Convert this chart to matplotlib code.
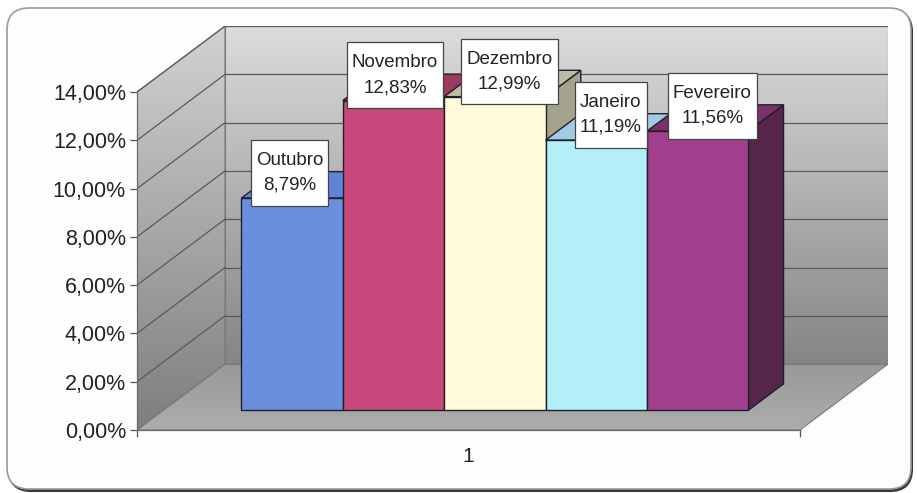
import matplotlib

matplotlib.use("Agg")
import matplotlib.pyplot as plt
import numpy as np
from matplotlib.colors import LinearSegmentedColormap
from matplotlib.patches import FancyBboxPatch, Polygon, Rectangle
from matplotlib.transforms import IdentityTransform

MONTHS = ["Outubro", "Novembro", "Dezembro", "Janeiro", "Fevereiro"]
VALUES = [8.79, 12.83, 12.99, 11.19, 11.56]
Y_TICKS = [0, 2, 4, 6, 8, 10, 12, 14]
CATEGORY = "1"

# bar face colours: front, top, right side
FRONT = ["#6b8fdf", "#c8497b", "#fffbda", "#b3eff9", "#a1418d"]
TOP = ["#5f84d6", "#9b3a5e", "#bcbca4", "#a3cbe6", "#7b3069"]
SIDE = ["#4a67a8", "#7e2d4b", "#a3a38b", "#86b8cc", "#55254a"]
LABEL_NUDGE = [-20, -16, -3, -3, -3]  # px, Excel shuffled the labels a bit

GAP = 0.77            # floor margin either side of the bars (category units)
DX, DY = 0.868, 2.73  # full depth of the floor, projected (x units, percent)
D0, D1 = 0.30, 0.70   # bar front / back as fraction of that depth
YMAX = 14
PX_PER_PCT = 24.14

plt.rcParams["font.family"] = ["Liberation Sans", "DejaVu Sans"]

fig = plt.figure(figsize=(9.17, 4.93), dpi=100)
fig.patch.set_facecolor("white")

# chart-area frame with dark shadow at the bottom
shadow = FancyBboxPatch((9, 2), 903, 481, boxstyle="round,pad=0,rounding_size=22",
                        fc="#3a3a3a", ec="#3a3a3a", lw=1.5,
                        transform=IdentityTransform(), zorder=-2)
frame = FancyBboxPatch((7, 4), 904, 481, boxstyle="round,pad=0,rounding_size=22",
                       fc="#fdfdfd", ec="#9a9a9a", lw=1.2,
                       transform=IdentityTransform(), zorder=-1)
fig.add_artist(shadow)
fig.add_artist(frame)

ax = fig.add_axes([137 / 917, 63 / 493, 751 / 917, (YMAX + DY) * PX_PER_PCT / 493])
ax.set_facecolor("none")

n = len(VALUES)
x0, x1 = -GAP, n + GAP


def P(x, y, d):
    return (x + d * DX, y + d * DY)


def grad_fill(pts, c_lo, c_hi, z):
    poly = Polygon(pts, closed=True, fc="none", ec="#7a7a7a", lw=0.8, zorder=z + 0.5)
    ax.add_patch(poly)
    cm = LinearSegmentedColormap.from_list("g", [c_lo, c_hi])
    ys = [p[1] for p in pts]
    xs = [p[0] for p in pts]
    im = ax.imshow(np.linspace(0, 1, 256).reshape(-1, 1), cmap=cm, origin="lower",
                   extent=[min(xs), max(xs), min(ys), max(ys)], aspect="auto",
                   zorder=z, interpolation="bilinear")
    im.set_clip_path(poly)


side_wall = [P(x0, 0, 0), P(x0, 0, 1), P(x0, YMAX, 1), P(x0, YMAX, 0)]
back_wall = [P(x0, 0, 1), P(x1, 0, 1), P(x1, YMAX, 1), P(x0, YMAX, 1)]
floor = [P(x0, 0, 0), P(x1, 0, 0), P(x1, 0, 1), P(x0, 0, 1)]
grad_fill(back_wall, "#858585", "#dcdcdc", 1)
grad_fill(side_wall, "#7e7e7e", "#d2d2d2", 1)
grad_fill(floor, "#adadad", "#999999", 1)

for v in Y_TICKS[1:]:
    a, b = P(x0, v, 0), P(x0, v, 1)
    ax.plot([a[0], b[0]], [a[1], b[1]], color="#5a5a5a", lw=0.9, zorder=2)
    c = P(x1, v, 1)
    ax.plot([b[0], c[0]], [b[1], c[1]], color="#5a5a5a", lw=0.9, zorder=2)

texts = []
for i, (v, name) in enumerate(zip(VALUES, MONTHS)):
    z = 3 + i * 0.1
    side = [P(i + 1, 0, D0), P(i + 1, 0, D1), P(i + 1, v, D1), P(i + 1, v, D0)]
    top = [P(i, v, D0), P(i + 1, v, D0), P(i + 1, v, D1), P(i, v, D1)]
    front = [P(i, 0, D0), P(i + 1, 0, D0), P(i + 1, v, D0), P(i, v, D0)]
    for pts, col in [(side, SIDE[i]), (top, TOP[i]), (front, FRONT[i])]:
        ax.add_patch(Polygon(pts, closed=True, fc=col, ec="#1f1f2a", lw=1.0, zorder=z))
    anchor = P(i + 0.5, v, (D0 + D1) / 2)
    t = ax.annotate(f"{name}\n{v:.2f}%".replace(".", ","), anchor,
                    xytext=(LABEL_NUDGE[i], 12), textcoords="offset pixels",
                    ha="center", va="center", fontsize=13.5, color="#222222",
                    linespacing=1.6, zorder=11)
    texts.append(t)

ax.set_xlim(x0, x1 + DX)
ax.set_ylim(0, YMAX + DY)

ax.set_yticks(Y_TICKS)
ax.set_yticklabels([f"{v:.2f}%".replace(".", ",") for v in Y_TICKS])
ax.set_xticks([n / 2])
ax.set_xticklabels([CATEGORY])
ax.set_xticks([x0, x1], minor=True)
ax.tick_params(axis="y", length=5, width=0.9, color="#555", labelsize=15.5,
               labelcolor="#222222", pad=3)
ax.tick_params(axis="x", which="major", length=0, labelsize=15, labelcolor="#222222",
               pad=12)
ax.tick_params(axis="x", which="minor", length=5, width=0.9, color="#555")
for s in ["top", "right"]:
    ax.spines[s].set_visible(False)
ax.spines["left"].set_bounds(0, YMAX)
ax.spines["bottom"].set_bounds(x0, x1)
for s in ["left", "bottom"]:
    ax.spines[s].set_color("#6a6a6a")
    ax.spines[s].set_linewidth(0.9)
    ax.spines[s].set_zorder(2)

# white label boxes, padded more vertically than horizontally like Excel's
fig.canvas.draw()
inv = ax.transData.inverted()
for t in texts:
    bb = t.get_window_extent()
    (ax0, ay0), (ax1, ay1) = inv.transform([(bb.x0 - 5, bb.y0 - 12), (bb.x1 + 5, bb.y1 + 12)])
    ax.add_patch(Rectangle((ax0, ay0), ax1 - ax0, ay1 - ay0, fc="white", ec="#444444",
                           lw=0.9, zorder=10, clip_on=False))

fig.savefig("out.png", dpi=100)
